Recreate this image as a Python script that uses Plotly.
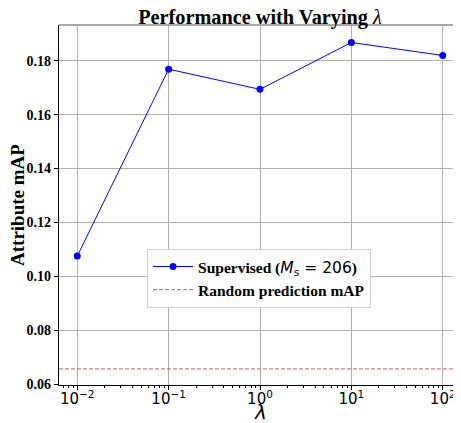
import plotly.graph_objects as go

lambdas = [0.01, 0.1, 1, 10, 100]
supervised_map = [0.1075, 0.1769, 0.1694, 0.1868, 0.1820]
random_map = 0.0656
x_tick_vals = [0.01, 0.1, 1, 10, 100]
x_tick_text = ["10<sup>−2</sup>", "10<sup>−1</sup>", "10<sup>0</sup>", "10<sup>1</sup>", "10<sup>2</sup>"]
y_tick_vals = [0.06, 0.08, 0.10, 0.12, 0.14, 0.16, 0.18]
y_tick_text = ["<b>%.2f</b>" % v for v in y_tick_vals]

x_range = [-2.2, 2.2]
y_range = [0.05963, 0.1933]

minor_vals = [m * 10 ** e for e in range(-3, 3) for m in range(2, 10)]

serif = "Liberation Serif, Times New Roman, serif"
sans = "DejaVu Sans, sans-serif"

# the page body adds an 8px offset; the figure is sized to fill the rest
W, H = 453, 415

fig = go.Figure()
fig.add_trace(go.Scatter(
    x=lambdas, y=supervised_map, mode="lines+markers",
    line=dict(color="blue", width=1),
    marker=dict(color="blue", size=7),
    name="<b>Supervised (</b><span style='font-family:DejaVu Sans'><i>M</i><sub>s</sub> = 206</span><b>)</b>",
))
fig.add_trace(go.Scatter(
    x=[10 ** x_range[0], 10 ** x_range[1]], y=[random_map, random_map], mode="lines",
    line=dict(color="#c85858", width=1, dash="4px,2px"),
    name="<b>Random prediction mAP</b>",
))

fig.update_layout(
    width=W, height=H,
    margin=dict(l=51, r=0, t=17, b=38),
    plot_bgcolor="white", paper_bgcolor="white",
    title=dict(text="<b>Performance with Varying </b><i>λ</i>", xref="paper", x=0.5, xanchor="center",
               y=1 - 8.5 / H, yanchor="middle",
               font=dict(family=serif, size=20.3, color="black")),
    xaxis=dict(type="log", range=x_range, tickvals=x_tick_vals, ticktext=x_tick_text,
               tickfont=dict(family=sans, size=15, color="black"),
               showgrid=True, gridcolor="#b0b0b0", gridwidth=0.8,
               showline=True, linecolor="black", linewidth=1.2,
               ticks="outside", ticklen=4, tickcolor="black", ticklabelstandoff=-4,
               minor=dict(tickvals=minor_vals, ticks="outside", ticklen=2, tickcolor="black", showgrid=False),
               automargin=False, zeroline=False),
    yaxis=dict(range=y_range, tickvals=y_tick_vals, ticktext=y_tick_text,
               tickfont=dict(family=serif, size=14, color="black"),
               showgrid=True, gridcolor="#b0b0b0", gridwidth=0.8,
               showline=True, linecolor="black", linewidth=1.2,
               ticks="outside", ticklen=4, tickcolor="black",
               automargin=False, zeroline=False),
    legend=dict(x=0.219, y=0.378, xanchor="left", yanchor="top",
                bgcolor="white", bordercolor="#d0d0d0", borderwidth=1,
                font=dict(family=serif, size=15.5, color="black"),
                tracegroupgap=0, itemwidth=40),
    showlegend=True,
    shapes=[dict(type="line", xref="paper", yref="paper", x0=0, x1=1, y0=1, y1=1,
                 line=dict(color="#555555", width=1.2))],
    annotations=[
        dict(text="<i>λ</i>", xref="paper", yref="paper", x=0.5, y=-27 / 360,
             xanchor="center", yanchor="middle", showarrow=False,
             font=dict(family=sans, size=20, color="black")),
        dict(text="<b>Attribute mAP</b>", xref="paper", yref="paper", x=-42 / 402, y=0.5,
             xanchor="center", yanchor="middle", textangle=-90, showarrow=False,
             font=dict(family=serif, size=19, color="black")),
    ],
)

fig.write_html("out.html")
